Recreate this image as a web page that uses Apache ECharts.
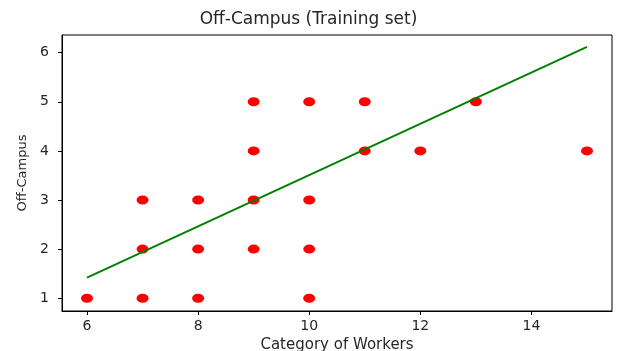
<!DOCTYPE html>
<html>
<head>
<meta charset="utf-8">
<script src="https://cdn.jsdelivr.net/npm/echarts@6/dist/echarts.min.js"></script>
<style>
  html, body { margin: 0; padding: 0; background: #fff; }
  #chart { width: 617px; height: 351px; }
</style>
</head>
<body>
<div id="chart"></div>
<script>
// Training observations: worker category vs. off-campus score
const workerCategory = [6, 7, 7, 7, 8, 8, 8, 9, 9, 9, 9, 10, 10, 10, 10, 11, 11, 12, 13, 15];
const offCampus      = [1, 1, 2, 3, 1, 2, 3, 2, 3, 4, 5, 1, 2, 3, 5, 4, 5, 4, 5, 4];

// Fitted regression line (endpoints over the training range)
const fitX = [6, 15];
const fitY = [1.42, 6.12];

// Tick labels
const xTicks = [6, 8, 10, 12, 14];
const yTicks = [1, 2, 3, 4, 5, 6];

const points = workerCategory.map((x, i) => [x, offCampus[i]]);
const fitLine = fitX.map((x, i) => [x, fitY[i]]);

const textColor = '#262626';
const font = 'DejaVu Sans';

const chart = echarts.init(document.getElementById('chart'), null, { renderer: 'canvas' });
chart.setOption({
  animation: false,
  backgroundColor: '#fff',
  title: {
    text: 'Off-Campus (Training set)',
    left: 'center',
    top: 11,
    padding: 0,
    textStyle: { fontFamily: font, fontSize: 17, fontWeight: 'normal', color: textColor }
  },
  grid: {
    left: 62, right: 5, top: 35, bottom: 40,
    outerBoundsMode: 'none',
    containLabel: false,
    show: true, borderColor: '#000', borderWidth: 1
  },
  xAxis: {
    type: 'value',
    min: 5.55, max: 15.45,
    name: 'Category of Workers',
    nameLocation: 'middle',
    nameGap: 25,
    nameTextStyle: { fontFamily: font, fontSize: 15, color: textColor },
    splitLine: { show: false },
    axisLine: { show: true, lineStyle: { color: '#000', width: 1 } },
    axisTick: { show: true, customValues: xTicks, length: 4, lineStyle: { color: '#000' } },
    axisLabel: { customValues: xTicks, fontFamily: font, fontSize: 14, color: textColor, margin: 8 }
  },
  yAxis: {
    type: 'value',
    min: 0.74, max: 6.36,
    name: 'Off-Campus',
    nameLocation: 'middle',
    nameGap: 33,
    nameRotate: 90,
    nameTextStyle: { fontFamily: font, fontSize: 13, color: textColor },
    splitLine: { show: false },
    axisLine: { show: true, lineStyle: { color: '#000', width: 1 } },
    axisTick: { show: true, customValues: yTicks, length: 4, lineStyle: { color: '#000' } },
    axisLabel: { customValues: yTicks, fontFamily: font, fontSize: 14, color: textColor, margin: 13 }
  },
  series: [
    {
      type: 'scatter',
      data: points,
      symbol: 'circle',
      symbolSize: [12, 9],
      itemStyle: { color: '#ff0000', opacity: 1 },
      z: 2
    },
    {
      type: 'line',
      data: fitLine,
      showSymbol: false,
      lineStyle: { color: '#008000', width: 2 },
      z: 3
    }
  ]
});
</script>
</body>
</html>
